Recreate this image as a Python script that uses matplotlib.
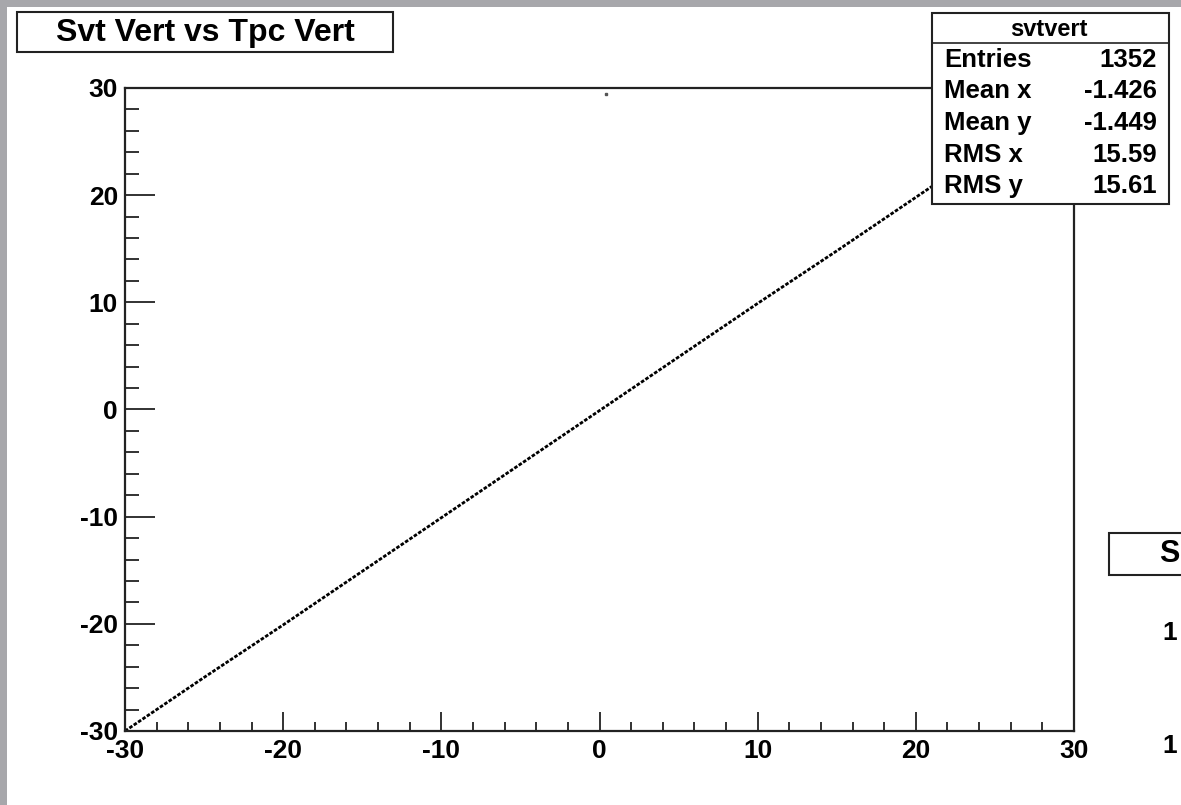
import matplotlib
matplotlib.use("Agg")
import matplotlib.pyplot as plt
from matplotlib.patches import Rectangle
from matplotlib.ticker import MultipleLocator

# ── Data ─────────────────────────────────────────────────
# vertex z positions (cm) along the correlation band
tpc_vertex = [-30.0, -25.0, -20.0, -15.0, -10.0, -5.0, 0.0, 5.0, 10.0, 15.0, 20.0, 25.0, 28.0]
svt_vertex = [-30.0, -25.0, -20.1, -15.1, -10.1, -5.1, -0.1, 4.9, 9.9, 14.8, 19.8, 24.8, 27.8]

# lone outlier near the top edge
stray_tpc = [0.4]
stray_svt = [29.4]

stat_names = ["Entries", "Mean x", "Mean y", "RMS x", "RMS y"]
stat_values = ["1352", "-1.426", "-1.449", "15.59", "15.61"]

x_ticks = [-30, -20, -10, 0, 10, 20, 30]
y_ticks = [-30, -20, -10, 0, 10, 20, 30]

# ── Layout (pixel based) ─────────────────────────────────
W, H = 1181, 805
DARK = "#222222"


def fx(x):
    return x / W


def fy(y):
    return 1 - y / H


def fig_box(fig, x0, y0, x1, y1, lw=1.5, z=5):
    fig.patches.append(Rectangle((fx(x0), fy(y1)), fx(x1 - x0), (y1 - y0) / H,
                                 transform=fig.transFigure, facecolor="white",
                                 edgecolor=DARK, linewidth=lw, zorder=z))


plt.rcParams["font.family"] = ["Liberation Sans", "DejaVu Sans"]
plt.rcParams["font.weight"] = "bold"
plt.rcParams["axes.unicode_minus"] = False

fig = plt.figure(figsize=(W / 100, H / 100), dpi=100, facecolor="#a7a7ab")

# white canvas over the grey slide background
fig.patches.append(Rectangle((fx(7), 0), 1, fy(7), transform=fig.transFigure,
                             facecolor="white", edgecolor="none", zorder=0))

ax = fig.add_axes([fx(125), fy(731), fx(1074 - 125), (731 - 88) / H])
ax.set_zorder(2)
ax.plot(tpc_vertex, svt_vertex, color="black", linewidth=2.0,
        linestyle=(0, (1.3, 0.6)), solid_capstyle="butt")
ax.plot(stray_tpc, stray_svt, "s", color="#555555", markersize=1.5)

ax.set_xlim(-30, 30)
ax.set_ylim(-30, 30)
ax.set_xticks(x_ticks)
ax.set_yticks(y_ticks)
ax.xaxis.set_minor_locator(MultipleLocator(2))
ax.yaxis.set_minor_locator(MultipleLocator(2))
ax.tick_params(axis="both", which="both", direction="in", width=1.3, color=DARK,
               labelsize=19, top=False, right=False)
ax.tick_params(axis="y", which="major", length=21.5, pad=5)
ax.tick_params(axis="y", which="minor", length=10)
ax.tick_params(axis="x", which="major", length=13.7, pad=6)
ax.tick_params(axis="x", which="minor", length=6.5)
for lab in ax.get_xticklabels() + ax.get_yticklabels():
    lab.set_fontweight("bold")
for sp in ax.spines.values():
    sp.set_linewidth(1.6)
    sp.set_color(DARK)

# title box
fig_box(fig, 17, 12, 393, 52)
fig.text(fx(205), fy(33), "Svt Vert vs Tpc Vert", ha="center", va="center",
         fontsize=23, fontweight="bold", zorder=6)

# statistics box
fig_box(fig, 932, 13, 1169, 204)
fig.add_artist(plt.Line2D([fx(932), fx(1169)], [fy(43), fy(43)], color=DARK,
                          linewidth=1.2, transform=fig.transFigure, zorder=6))
fig.text(fx(1049), fy(29), "svtvert", ha="center", va="center",
         fontsize=17, fontweight="bold", zorder=6)
for i, (name, val) in enumerate(zip(stat_names, stat_values)):
    base = 67 + i * 31.5
    fig.text(fx(944), fy(base), name, ha="left", va="baseline",
             fontsize=18.5, fontweight="bold", zorder=6)
    fig.text(fx(1157), fy(base), val, ha="right", va="baseline",
             fontsize=18.5, fontweight="bold", zorder=6)

# neighbouring pad, cut by the canvas edge
fig_box(fig, 1109, 533, 1230, 575)
fig.text(fx(1159), fy(554), "S", ha="left", va="center",
         fontsize=22, fontweight="bold", zorder=6)
fig.text(fx(1162), fy(633), "1", ha="left", va="center",
         fontsize=19, fontweight="bold")
fig.text(fx(1162), fy(746), "1", ha="left", va="center",
         fontsize=19, fontweight="bold")

fig.savefig("out.png", dpi=100, facecolor=fig.get_facecolor())
